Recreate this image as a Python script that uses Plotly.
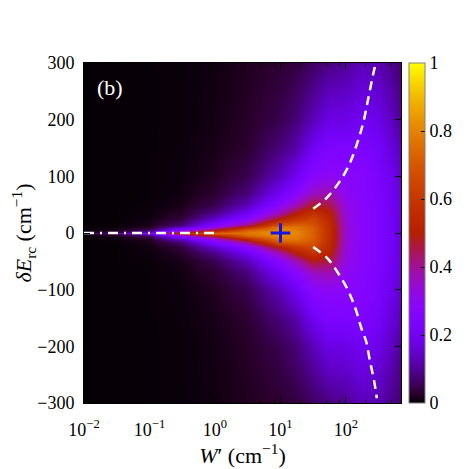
import math
import plotly.graph_objects as go

# ---- data ----
# heatmap columns: log10(W') positions and energy offsets (upper half, mirrored below)
log_w_cols = [-2, -1.5, -1, -0.5, 0, 0.5, 1, 1.25, 1.5, 1.75, 2, 2.25, 2.5, 2.84]
dE_half = [0, 2, 5, 10, 15, 25, 35, 50, 70, 100, 150, 200, 300]

col_m2_00 = [0.06, 0.015, 0.006, 0.004, 0.003, 0.003, 0.003, 0.003, 0.003, 0.003, 0.003, 0.003, 0.003]
col_m1_50 = [0.12, 0.04, 0.015, 0.008, 0.005, 0.004, 0.004, 0.004, 0.004, 0.004, 0.004, 0.004, 0.004]
col_m1_00 = [0.28, 0.15, 0.06, 0.025, 0.015, 0.01, 0.008, 0.006, 0.005, 0.005, 0.005, 0.005, 0.005]
col_m0_50 = [0.55, 0.45, 0.28, 0.15, 0.08, 0.04, 0.025, 0.015, 0.01, 0.008, 0.007, 0.006, 0.006]
col_p0_00 = [0.72, 0.65, 0.48, 0.33, 0.25, 0.15, 0.09, 0.05, 0.03, 0.02, 0.015, 0.012, 0.01]
col_p0_50 = [0.78, 0.76, 0.72, 0.55, 0.42, 0.28, 0.2, 0.13, 0.08, 0.05, 0.03, 0.025, 0.02]
col_p1_00 = [0.83, 0.83, 0.81, 0.78, 0.7, 0.5, 0.38, 0.28, 0.2, 0.13, 0.08, 0.05, 0.03]
col_p1_25 = [0.8, 0.8, 0.79, 0.77, 0.73, 0.6, 0.5, 0.38, 0.28, 0.2, 0.12, 0.08, 0.04]
col_p1_50 = [0.72, 0.72, 0.72, 0.71, 0.69, 0.65, 0.58, 0.48, 0.36, 0.28, 0.2, 0.13, 0.06]
col_p1_75 = [0.55, 0.55, 0.55, 0.55, 0.54, 0.53, 0.5, 0.45, 0.38, 0.3, 0.24, 0.18, 0.085]
col_p2_00 = [0.34, 0.34, 0.34, 0.34, 0.34, 0.33, 0.33, 0.32, 0.3, 0.28, 0.24, 0.18, 0.1]
col_p2_25 = [0.28, 0.28, 0.28, 0.28, 0.28, 0.28, 0.28, 0.28, 0.27, 0.27, 0.24, 0.2, 0.13]
col_p2_50 = [0.24, 0.24, 0.24, 0.24, 0.24, 0.24, 0.24, 0.24, 0.235, 0.23, 0.21, 0.18, 0.12]
col_p2_84 = [0.17, 0.17, 0.17, 0.17, 0.17, 0.17, 0.165, 0.165, 0.16, 0.15, 0.13, 0.1, 0.07]

# dashed boundary curves
upper_w = [31.6, 49.1, 78.9, 111, 145, 184, 218, 258, 286]
upper_dE = [42.8, 60.4, 89.8, 119.7, 154.9, 195.4, 236.4, 278.2, 301]
lower_w = [31.6, 52.6, 73.8, 97.7, 122, 145, 172, 204, 228, 270, 296]
lower_dE = [-24.6, -45.2, -68.7, -92, -115.7, -139, -168.5, -191.9, -221.3, -262.3, -291.7]

# dash-dot line along dE = 0
axis_line_w = [0.01, 1.0]
axis_line_dE = [0, 0]

# marked point
cross_w = [10]
cross_dE = [0]

x_tick_vals = [0.01, 0.1, 1, 10, 100]
x_tick_text = ["10<sup>−2</sup>", "10<sup>−1</sup>", "10<sup>0</sup>", "10<sup>1</sup>", "10<sup>2</sup>"]
y_tick_vals = [-300, -200, -100, 0, 100, 200, 300]
y_tick_text = ["−300", "−200", "−100", "0", "100", "200", "300"]
cb_tick_vals = [0, 0.2, 0.4, 0.6, 0.8, 1]
cb_tick_text = ["0", "0.2", "0.4", "0.6", "0.8", "1"]

# ---- build grid ----
cols = [col_m2_00, col_m1_50, col_m1_00, col_m0_50, col_p0_00, col_p0_50, col_p1_00,
        col_p1_25, col_p1_50, col_p1_75, col_p2_00, col_p2_25, col_p2_50, col_p2_84]
w_vals = [10 ** v for v in log_w_cols]
idx_full = list(range(len(dE_half) - 1, 0, -1)) + list(range(len(dE_half)))
y_full = [-dE_half[i] for i in range(len(dE_half) - 1, 0, -1)] + dE_half
z = [[c[i] for c in cols] for i in idx_full]

# gnuplot default palette (rgbformulae 7,5,15)
cscale = []
N = 40
for k in range(N + 1):
    v = k / N
    r = math.sqrt(v)
    g = v ** 3
    b = max(math.sin(2 * math.pi * v), 0)
    cscale.append([v, "rgb(%d,%d,%d)" % (round(255 * r), round(255 * g), round(255 * b))])

FONT = "Liberation Serif"

fig = go.Figure()
fig.add_trace(go.Heatmap(
    x=w_vals, y=y_full, z=z, zmin=0, zmax=1, zsmooth="best",
    colorscale=cscale,
    colorbar=dict(
        x=1.0244, xanchor="left", xpad=0, y=0.5, yanchor="middle", ypad=0,
        len=1, lenmode="fraction", thickness=16,
        outlinewidth=1, outlinecolor="#808080",
        tickvals=cb_tick_vals, ticktext=cb_tick_text,
        ticks="inside", ticklen=4, tickcolor="black",
        tickfont=dict(family=FONT, size=18, color="black"),
    ),
    hoverinfo="skip",
))
fig.add_trace(go.Scatter(
    x=upper_w, y=upper_dE, mode="lines", line=dict(color="white", width=2.5, dash="9px,6px", shape="spline"),
    showlegend=False, hoverinfo="skip"))
fig.add_trace(go.Scatter(
    x=lower_w, y=lower_dE, mode="lines", line=dict(color="white", width=2.5, dash="9px,6px", shape="spline"),
    showlegend=False, hoverinfo="skip"))
fig.add_trace(go.Scatter(
    x=axis_line_w, y=axis_line_dE, mode="lines", line=dict(color="white", width=2.5, dash="10px,6px,2px,6px"),
    showlegend=False, hoverinfo="skip"))
fig.add_trace(go.Scatter(
    x=cross_w, y=cross_dE, mode="markers",
    marker=dict(symbol="cross-thin", size=14, line=dict(color="#1515e6", width=3)),
    showlegend=False, hoverinfo="skip"))

minor_vals = []
for e in range(-2, 3):
    for m in (2, 5, 8):
        minor_vals.append(m * 10 ** e)

# page body has an 8px margin, so the figure is 461x461 and offsets are compensated
fig.update_layout(
    width=461, height=461,
    margin=dict(l=70, r=63, t=55, b=65),
    paper_bgcolor="white", plot_bgcolor="black",
    font=dict(family=FONT, size=18, color="black"),
    showlegend=False,
    xaxis=dict(
        type="log", range=[-2, 2.84], showgrid=False, zeroline=False,
        tickvals=x_tick_vals, ticktext=x_tick_text,
        ticks="inside", ticklen=6, tickcolor="black", tickwidth=1,
        ticklabelstandoff=10,
        minor=dict(tickvals=minor_vals, ticks="inside", ticklen=3, tickcolor="black"),
        showline=True, linecolor="black", linewidth=1, mirror="allticks",
        tickfont=dict(family=FONT, size=18),
        title=dict(text="<i>W</i>′ (cm<sup>−1</sup>)", font=dict(family=FONT, size=22), standoff=2),
    ),
    yaxis=dict(
        range=[-300, 300], showgrid=False, zeroline=False,
        tickvals=y_tick_vals, ticktext=y_tick_text,
        ticks="inside", ticklen=6, tickcolor="black", tickwidth=1,
        ticklabelstandoff=5,
        showline=True, linecolor="black", linewidth=1, mirror="allticks",
        tickfont=dict(family=FONT, size=18),
        title=dict(text="<i>δE</i><sub>rc</sub> (cm<sup>−1</sup>)", font=dict(family=FONT, size=22), standoff=2),
    ),
    annotations=[dict(
        text="(b)", x=0.035, y=0.97, xref="paper", yref="paper", xanchor="left", yanchor="top",
        showarrow=False, font=dict(family=FONT, size=22, color="white"))],
)

fig.write_html("out.html")
